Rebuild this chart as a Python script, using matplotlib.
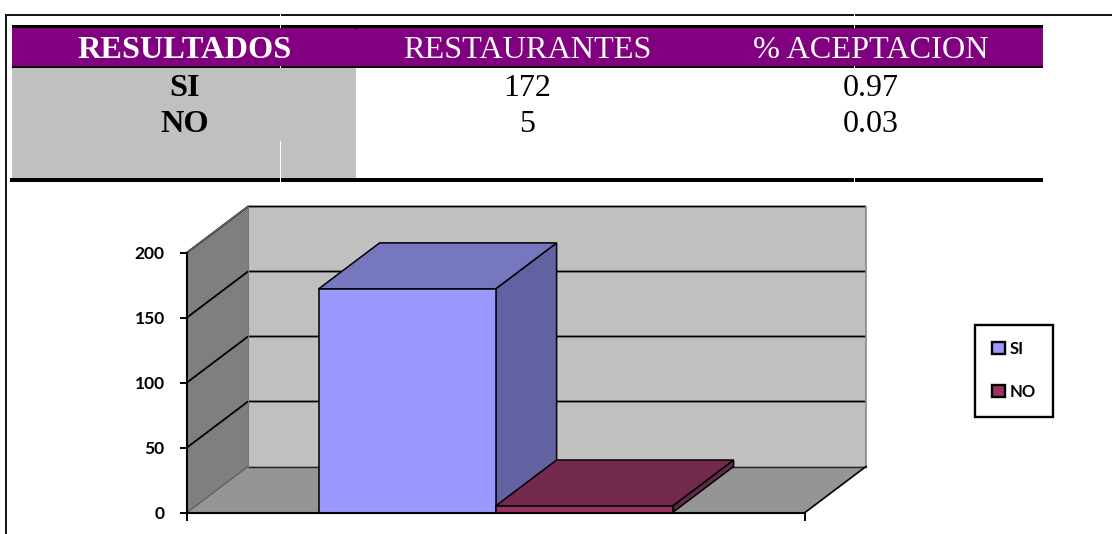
import matplotlib
matplotlib.use('Agg')
import matplotlib.pyplot as plt
from matplotlib.patches import Patch, Rectangle

W, H = 1112, 534

HEADERS = ['RESULTADOS', 'RESTAURANTES', '% ACEPTACION']
CATEGORIES = ['SI', 'NO']
RESTAURANTS = [172, 5]
ACCEPTANCE = ['0.97', '0.03']
Y_TICKS = [0, 50, 100, 150, 200]

FRONT = ['#9999FF', '#993366']
TOP = ['#7777C0', '#732A4C']
SIDE = ['#6262A2', '#5E2A48']

SERIF = 'Liberation Serif'

fig = plt.figure(figsize=(W / 100, H / 100), dpi=100, facecolor='white')

# ---------------------------------------------------------------------------
# Table and outer frame, in pixel coordinates
# ---------------------------------------------------------------------------

tab = fig.add_axes([0, 0, 1, 1], zorder=0)
tab.set_xlim(0, W)
tab.set_ylim(H, 0)
tab.axis('off')


def box(x0, y0, x1, y1, color, z=1):
    tab.add_patch(Rectangle((x0, y0), x1 - x0, y1 - y0, facecolor=color,
                            edgecolor='none', zorder=z))


box(6, 14, W, 16, '#151515')
box(5, 14, 7, H, '#151515')
box(12, 25, 1043, 28, 'black')
box(12, 28, 1043, 66, '#800080')
box(12, 66, 1043, 68, 'black')
box(12, 68, 356, 178, '#C0C0C0')
box(10, 178, 1043, 182, 'black')
box(355, 28, 357, 29, 'black')

# white cuts left by the page grid
for x in (280, 854):
    box(x, 14, x + 1, 16, 'white', 3)
    box(x, 25, x + 1, 28, 'white', 3)
    box(x, 66, x + 1, 68, 'white', 3)
    box(x, 178, x + 1, 182, 'white', 3)
box(280, 141, 281, 178, 'white', 3)

COL_X = [184.5, 527, 871]
tab.text(COL_X[0], 50, HEADERS[0], family=SERIF, weight='bold', size=23.3,
         color='white', ha='center', va='center', zorder=4)
for x, label in zip(COL_X[1:], HEADERS[1:]):
    tab.text(x, 50, label, family=SERIF, size=23.2, color='white',
             ha='center', va='center', zorder=4)

ROW_Y = [88, 125]
for i, y in enumerate(ROW_Y):
    tab.text(COL_X[0], y, CATEGORIES[i], family=SERIF, weight='bold', size=23.3,
             ha='center', va='center', zorder=4)
    tab.text(COL_X[1], y, str(RESTAURANTS[i]), family=SERIF, size=23,
             ha='center', va='center', zorder=4)
    tab.text(COL_X[2], y, ACCEPTANCE[i], family=SERIF, size=23,
             ha='center', va='center', zorder=4)

# ---------------------------------------------------------------------------
# Pseudo-3D bar chart: the axes is the front plane
# ---------------------------------------------------------------------------

ax_l, ax_r, ax_top, ax_bot = 187, 805, 252.5, 512.5
ax = fig.add_axes([ax_l / W, 1 - ax_bot / H, (ax_r - ax_l) / W, (ax_bot - ax_top) / H],
                  zorder=1)
ax.patch.set_visible(False)
ax.set_xlim(0, 1)
ax.set_ylim(0, 200)

DX = 61 / (ax_r - ax_l)     # depth offset in axis units
DY = 46 / 1.3
BAR_W = 177 / (ax_r - ax_l)
BAR_X0 = 131.6 / (ax_r - ax_l)

# walls and floor
ax.fill([DX, 1 + DX, 1 + DX, DX], [DY, DY, 200 + DY, 200 + DY], color='#C0C0C0',
        clip_on=False, zorder=1, lw=0)
ax.fill([0, DX, DX, 0], [0, DY, 200 + DY, 200], color='#7F7F7F',
        clip_on=False, zorder=1, lw=0)
ax.fill([0, 1, 1 + DX, DX], [0, 0, DY, DY], color='#959595',
        clip_on=False, zorder=1, lw=0)

# gridlines; the wall bottom and top-left edges are lighter in the reference
for v in Y_TICKS[1:]:
    ax.plot([0, DX, 1 + DX], [v, v + DY, v + DY], color='black', lw=1.3,
            clip_on=False, zorder=2, solid_capstyle='butt')
ax.plot([DX, 1 + DX], [DY, DY], color='#222222', lw=1.0, clip_on=False, zorder=2)
ax.plot([0, DX], [0, DY], color='#555555', lw=0.8, clip_on=False, zorder=2)
ax.plot([0, DX], [200, 200 + DY], color='#666666', lw=1.0, clip_on=False, zorder=2.5)
ax.plot([DX, DX], [DY, 200 + DY], color='#777777', lw=0.8, clip_on=False, zorder=2)
ax.plot([1 + DX, 1 + DX], [DY, 200 + DY], color='#888888', lw=1.2, clip_on=False, zorder=2)
ax.plot([1, 1 + DX], [0, DY], color='black', lw=1.2, clip_on=False, zorder=2)

# bars, nearest-last so the SI side sits behind the NO top
for i in (0, 1):
    v = RESTAURANTS[i]
    x0 = BAR_X0 + i * BAR_W
    x1 = x0 + BAR_W
    ax.fill([x1, x1 + DX, x1 + DX, x1], [0, DY, v + DY, v], facecolor=SIDE[i],
            edgecolor='black', lw=1.1, clip_on=False, zorder=3 + i)
    ax.fill([x0, x1, x1 + DX, x0 + DX], [v, v, v + DY, v + DY], facecolor=TOP[i],
            edgecolor='black', lw=1.1, clip_on=False, zorder=3 + i)
    ax.bar(x0, v, BAR_W, align='edge', color=FRONT[i], edgecolor='black',
           lw=1.1, clip_on=False, zorder=3 + i)

ax.set_yticks(Y_TICKS)
ax.set_yticklabels([str(v) for v in Y_TICKS], family='Lato', weight='bold', size=12.5)
ax.set_xticks([0, 1])
ax.set_xticklabels([])
ax.tick_params(axis='both', length=5, width=1.4, color='black', pad=11)
ax.tick_params(axis='x', length=6)
for side in ('top', 'right'):
    ax.spines[side].set_visible(False)
for side in ('left', 'bottom'):
    ax.spines[side].set_linewidth(1.5)
    ax.spines[side].set_zorder(6)

handles = [Patch(facecolor=FRONT[i], edgecolor='black', lw=1.7, label=CATEGORIES[i])
           for i in range(2)]
leg = fig.legend(handles=handles, loc='center', bbox_to_anchor=(1014 / W, 1 - 370.5 / H),
                 frameon=True, fancybox=False, framealpha=1, edgecolor='black',
                 prop={'family': 'Lato', 'weight': 'bold', 'size': 12},
                 handlelength=0.75, handleheight=0.75, handletextpad=0.3,
                 labelspacing=1.6, borderpad=1.0, borderaxespad=0)
leg.get_frame().set_linewidth(1.7)

fig.savefig('out.png', dpi=100)
